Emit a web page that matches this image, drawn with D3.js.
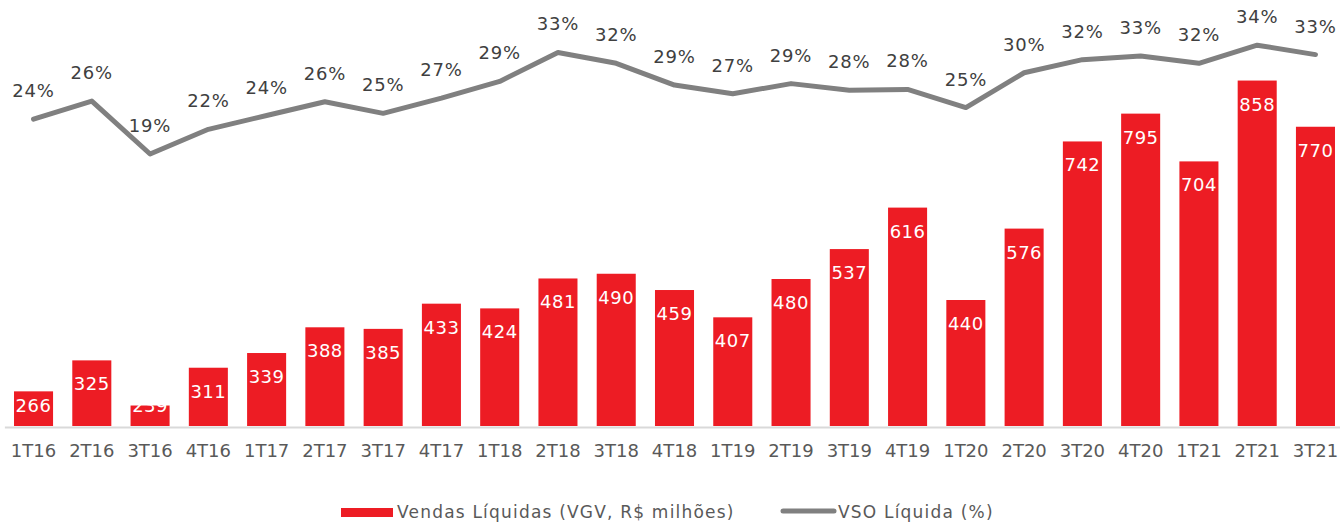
<!DOCTYPE html>
<html>
<head>
<meta charset="utf-8">
<script src="https://cdn.jsdelivr.net/npm/d3@7"></script>
<style>
  html, body { margin: 0; padding: 0; background: #ffffff; }
  svg { display: block; font-family: "DejaVu Sans", sans-serif; }
</style>
</head>
<body>
<svg id="chart" width="1340" height="522"></svg>
<script>
const categories = ["1T16","2T16","3T16","4T16","1T17","2T17","3T17","4T17","1T18","2T18","3T18","4T18",
                    "1T19","2T19","3T19","4T19","1T20","2T20","3T20","4T20","1T21","2T21","3T21"];
const vendasLiquidas = [266,325,239,311,339,388,385,433,424,481,490,459,407,480,537,616,440,576,742,795,704,858,770];
const vsoLiquida = [23.8,26.3,19.0,22.4,24.3,26.2,24.6,26.7,29.0,33.0,31.5,28.5,27.3,28.7,27.8,27.9,25.4,30.2,32.0,32.5,31.5,34.0,32.7];
const legendLabels = ["Vendas Líquidas (VGV, R$ milhões)", "VSO Líquida (%)"];

const svg = d3.select("#chart");
const baseY = 426, topY = 6;

const x = d3.scaleBand().domain(categories).range([4.4, 1344.6]).paddingInner(0.33).paddingOuter(0.165);
const yBar = d3.scaleLinear().domain([200, 1000]).range([baseY, topY]);
const yLine = d3.scaleLinear().domain([-18.5, 39.4]).range([baseY, topY]);

// bars
svg.append("g").selectAll("rect").data(categories).join("rect")
  .attr("x", d => x(d))
  .attr("y", (d, i) => yBar(vendasLiquidas[i]))
  .attr("width", x.bandwidth())
  .attr("height", (d, i) => baseY - yBar(vendasLiquidas[i]))
  .attr("fill", "#ED1C24");

// bar labels
svg.append("g").selectAll("text").data(categories).join("text")
  .attr("x", d => x(d) + x.bandwidth() / 2)
  .attr("y", (d, i) => Math.min(yBar(vendasLiquidas[i]) + 30, baseY - 14.5))
  .attr("text-anchor", "middle")
  .attr("fill", "#ffffff")
  .style("font-size", "18px")
  .style("letter-spacing", "0.5px")
  .text((d, i) => vendasLiquidas[i]);

// x axis
const axis = svg.append("g").attr("transform", `translate(0,${baseY + 1})`)
  .call(d3.axisBottom(x).tickSize(0).tickPadding(17));
axis.select(".domain").attr("stroke", "#d9d9d9").attr("stroke-width", 2);
axis.selectAll("text").attr("fill", "#595959").style("font-size", "18px").style("font-family", "DejaVu Sans");

// line
const line = d3.line()
  .x((d, i) => x(categories[i]) + x.bandwidth() / 2)
  .y(d => yLine(d));
svg.append("path").datum(vsoLiquida)
  .attr("d", line)
  .attr("fill", "none")
  .attr("stroke", "#808080")
  .attr("stroke-width", 5)
  .attr("stroke-linecap", "round")
  .attr("stroke-linejoin", "round");

// line labels
svg.append("g").selectAll("text").data(vsoLiquida).join("text")
  .attr("x", (d, i) => x(categories[i]) + x.bandwidth() / 2)
  .attr("y", d => yLine(d) - 22)
  .attr("text-anchor", "middle")
  .attr("fill", "#404040")
  .style("font-size", "18px")
  .style("letter-spacing", "0.8px")
  .text(d => Math.round(d) + "%");

// legend
const lg = svg.append("g");
lg.append("rect").attr("x", 341).attr("y", 508).attr("width", 52).attr("height", 9).attr("fill", "#ED1C24");
lg.append("text").attr("x", 397).attr("y", 518).attr("fill", "#595959")
  .style("font-size", "17px").style("letter-spacing", "1.2px").text(legendLabels[0]);
lg.append("line").attr("x1", 783).attr("x2", 834).attr("y1", 511).attr("y2", 511)
  .attr("stroke", "#808080").attr("stroke-width", 5).attr("stroke-linecap", "round");
lg.append("text").attr("x", 838).attr("y", 518).attr("fill", "#595959")
  .style("font-size", "17px").style("letter-spacing", "1.2px").text(legendLabels[1]);
</script>
</body>
</html>
